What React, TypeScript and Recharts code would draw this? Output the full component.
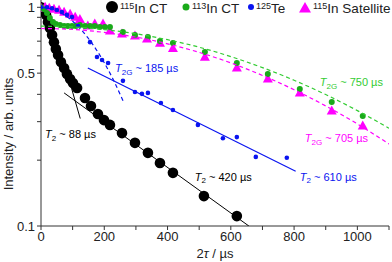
import React from "react";
import { ComposedChart, Scatter, XAxis, YAxis, ReferenceDot } from "recharts";

// ---------- data (2tau in us, normalised intensity) ----------
const ct115X = [0, 9, 16, 22, 28, 35, 41, 47, 54, 63, 73, 82, 92, 101, 114, 139, 158, 180, 199, 218, 256, 297, 338, 376, 417, 515, 619];
const ct115Y = [1.0, 0.972, 0.923, 0.857, 0.804, 0.747, 0.693, 0.644, 0.605, 0.562, 0.528, 0.496, 0.47, 0.451, 0.428, 0.385, 0.354, 0.325, 0.305, 0.29, 0.266, 0.24, 0.216, 0.194, 0.175, 0.137, 0.111];

const ct113X = [0, 9, 19, 28, 38, 47, 60, 73, 85, 98, 110, 123, 139, 155, 170, 186, 202, 218, 259, 297, 338, 376, 417, 518, 619, 717, 818, 919, 1017];
const ct113Y = [1.0, 0.98, 0.942, 0.894, 0.857, 0.839, 0.829, 0.821, 0.821, 0.821, 0.821, 0.829, 0.821, 0.821, 0.821, 0.813, 0.813, 0.813, 0.771, 0.747, 0.731, 0.701, 0.687, 0.625, 0.556, 0.496, 0.423, 0.369, 0.318];

const te125X = [0, 19, 35, 50, 66, 82, 98, 117, 155, 177, 193, 212, 259, 297, 319, 338, 379, 417, 496, 575, 619, 679, 777];
const te125Y = [1.0, 1.0, 0.99, 0.972, 0.952, 0.923, 0.903, 0.821, 0.693, 0.593, 0.574, 0.556, 0.461, 0.41, 0.402, 0.406, 0.365, 0.339, 0.29, 0.252, 0.255, 0.207, 0.205];

const satX = [0, 13, 26, 41, 57, 73, 92, 108, 123, 148, 170, 196, 218, 256, 297, 335, 376, 417, 518, 619, 717, 818, 919, 1017];
const satY = [1.0, 1.01, 1.0, 0.99, 0.98, 0.96, 0.94, 0.91, 0.89, 0.83, 0.847, 0.847, 0.787, 0.763, 0.747, 0.724, 0.693, 0.655, 0.598, 0.533, 0.475, 0.41, 0.339, 0.29];

// fitted curves
const fit88X = [90, 124];
const fit88Y = [0.46, 0.31];
const fit420X = [73, 657];
const fit420Y = [0.406, 0.1];
const fit610X = [148, 805];
const fit610Y = [0.528, 0.178];
const fit185X = [0, 50, 100, 150, 200, 230, 260];
const fit185Y = [1.0, 0.964, 0.864, 0.72, 0.558, 0.462, 0.372];
const fitGX = [0, 100, 200, 300, 400, 500, 600, 700, 800, 900, 1000, 1100];
const fit750Y = [0.82, 0.813, 0.791, 0.757, 0.711, 0.657, 0.595, 0.53, 0.464, 0.399, 0.337, 0.28];
const fit705Y = [0.8, 0.792, 0.768, 0.731, 0.681, 0.622, 0.557, 0.488, 0.42, 0.354, 0.293, 0.237];

const xTicks = [0, 100, 200, 300, 400, 500, 600, 700, 800, 900, 1000, 1100];
const xLabelled = [0, 200, 400, 600, 800, 1000];
const yTicks = [0.1, 0.2, 0.3, 0.4, 0.5, 0.6, 0.7, 0.8, 0.9, 1];
const yLabelled = [0.1, 0.5, 1];

const legendItems = ["115|In CT", "113|In CT", "125|Te", "115|In Satellite"];

// ---------- style ----------
const FONT = '"Liberation Sans", Arial, Helvetica, sans-serif';
const BLACK = "#000000";
const GREEN = "#1aaa1a";
const GREEN_L = "#33cc33";
const BLUE = "#0a14f0";
const MAGENTA = "#ff00ff";
const AXIS = "#333333";
const TEXT = "#222222";

const pts = (xs: number[], ys: number[]) => xs.map((x, i) => ({ x, y: ys[i] }));

const circleShape = (r: number, fill: string) => (p: any) => (
  <circle cx={p.cx} cy={p.cy} r={r} fill={fill} />
);
const triShape = (w: number, h: number, fill: string) => (p: any) => (
  <polygon
    points={`${p.cx - w / 2},${p.cy + h / 2} ${p.cx + w / 2},${p.cy + h / 2} ${p.cx},${p.cy - h / 2}`}
    fill={fill}
  />
);
const noShape = () => <g />;

const Annot = (props: any) => {
  const { viewBox, sub, rest, color } = props;
  return (
    <text x={viewBox.x} y={viewBox.y} fill={color} fontSize={11} fontFamily={FONT}>
      <tspan fontStyle="italic">T</tspan>
      <tspan fontSize={8} dy={2.5}>{sub}</tspan>
      <tspan dy={-2.5}>{rest}</tspan>
    </text>
  );
};

const annotations = [
  { x: 13, y: 0.252, sub: "2", rest: " ~ 88 µs", color: BLACK },
  { x: 486, y: 0.161, sub: "2", rest: " ~ 420 µs", color: BLACK },
  { x: 818, y: 0.161, sub: "2", rest: " ~ 610 µs", color: BLUE },
  { x: 234, y: 0.506, sub: "2G", rest: " ~ 185 µs", color: BLUE },
  { x: 881, y: 0.436, sub: "2G", rest: " ~ 750 µs", color: GREEN_L },
  { x: 834, y: 0.242, sub: "2G", rest: " ~ 705 µs", color: MAGENTA },
];

const XTitle = (props: any) => {
  const vb = props.viewBox;
  return (
    <text x={vb.x + vb.width / 2} y={vb.y + 32} textAnchor="middle" fontSize={13} fill={TEXT} fontFamily={FONT}>
      2<tspan fontStyle="italic">τ</tspan> / µs
    </text>
  );
};

const YTitle = () => (
  <text
    transform="rotate(-90)"
    x={-134}
    y={13}
    textAnchor="middle"
    fontSize={13}
    fill={TEXT}
    fontFamily={FONT}
  >
    Intensity / arb. units
  </text>
);

const Legend = () => {
  const markers = [
    <circle key="a" cx={112} cy={7} r={6} fill={BLACK} />,
    <circle key="b" cx={186} cy={7} r={3.5} fill={GREEN} />,
    <circle key="c" cx={251} cy={7} r={3} fill={BLUE} />,
    <polygon key="d" points="299,12.5 311,12.5 305,2" fill={MAGENTA} />,
  ];
  const textX = [120, 192, 256, 313];
  return (
    <svg
      width={392}
      height={20}
      style={{ position: "absolute", left: 0, top: 0, pointerEvents: "none" }}
      fontFamily={FONT}
    >
      {markers}
      {legendItems.map((s, i) => {
        const [sup, main] = s.split("|");
        return (
          <text key={s} x={textX[i]} y={13} fontSize={13.5} fill={TEXT}>
            <tspan fontSize={9} dy={-4.5}>{sup}</tspan>
            <tspan dy={4.5}>{main}</tspan>
          </text>
        );
      })}
    </svg>
  );
};

export default function App() {
  return (
    <div style={{ position: "absolute", left: 0, top: 0, width: 392, height: 262, background: "#fff", fontFamily: FONT }}>
      <ComposedChart width={392} height={262} margin={{ top: 0, right: 3, bottom: 0, left: 0 }}>
        <XAxis
          type="number"
          dataKey="x"
          domain={[0, 1100]}
          ticks={xTicks}
          interval={0}
          tickFormatter={(v: number) => (xLabelled.includes(v) ? String(v) : "")}
          height={36}
          tickSize={4}
          stroke={AXIS}
          tick={{ fill: TEXT, fontSize: 13, fontFamily: FONT }}
          allowDataOverflow
          label={<XTitle />}
        />
        <YAxis
          type="number"
          dataKey="y"
          scale="log"
          domain={[0.1, 1.08]}
          ticks={yTicks}
          interval={0}
          tickFormatter={(v: number) => (yLabelled.includes(v) ? String(v) : "")}
          width={41}
          tickSize={4}
          stroke={AXIS}
          tick={{ fill: TEXT, fontSize: 13, fontFamily: FONT }}
          allowDataOverflow
          label={<YTitle />}
        />
        <Scatter data={pts(ct115X, ct115Y)} shape={circleShape(5.3, BLACK)} isAnimationActive={false} />
        <Scatter data={pts(satX, satY)} shape={triShape(10, 9, MAGENTA)} isAnimationActive={false} />
        <Scatter data={pts(ct113X, ct113Y)} shape={circleShape(3, GREEN)} isAnimationActive={false} />
        <Scatter data={pts(te125X, te125Y)} shape={circleShape(2.3, BLUE)} isAnimationActive={false} />

        <Scatter data={pts(fit88X, fit88Y)} shape={noShape} line={{ stroke: BLACK, strokeWidth: 1 }} lineType="joint" isAnimationActive={false} />
        <Scatter data={pts(fit420X, fit420Y)} shape={noShape} line={{ stroke: BLACK, strokeWidth: 1 }} lineType="joint" isAnimationActive={false} />
        <Scatter data={pts(fit610X, fit610Y)} shape={noShape} line={{ stroke: BLUE, strokeWidth: 1.2 }} lineType="joint" isAnimationActive={false} />
        <Scatter data={pts(fit185X, fit185Y)} shape={noShape} line={{ stroke: BLUE, strokeWidth: 1.2, strokeDasharray: "4 3" }} lineType="joint" lineJointType="monotone" isAnimationActive={false} />
        <Scatter data={pts(fitGX, fit750Y)} shape={noShape} line={{ stroke: GREEN_L, strokeWidth: 1.2, strokeDasharray: "4 3" }} lineType="joint" lineJointType="monotone" isAnimationActive={false} />
        <Scatter data={pts(fitGX, fit705Y)} shape={noShape} line={{ stroke: MAGENTA, strokeWidth: 1.2, strokeDasharray: "4 3" }} lineType="joint" lineJointType="monotone" isAnimationActive={false} />

        {annotations.map((a) => (
          <ReferenceDot
            key={a.rest + a.color}
            x={a.x}
            y={a.y}
            r={0}
            fill="none"
            stroke="none"
            ifOverflow="visible"
            label={<Annot sub={a.sub} rest={a.rest} color={a.color} />}
          />
        ))}
      </ComposedChart>
      <Legend />
    </div>
  );
}
